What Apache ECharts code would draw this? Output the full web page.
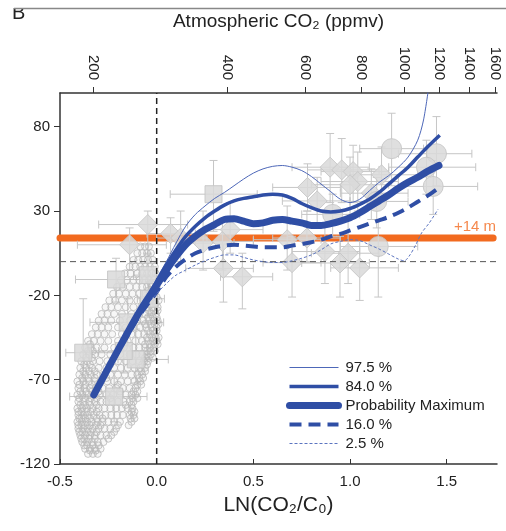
<!DOCTYPE html>
<html>
<head>
<meta charset="utf-8">
<script src="https://cdn.jsdelivr.net/npm/echarts@6/dist/echarts.min.js"></script>
<style>
html, body { margin: 0; padding: 0; background: #fff; }
#chart { width: 506px; height: 531px; }
</style>
</head>
<body>
<div id="chart"></div>
<script>
// reference CO2 (ppmv) for the top axis
const C0 = 278;
const ppmTicks = [200, 400, 600, 800, 1000, 1200, 1400, 1600];
const lnTicks = [-0.5, 0.0, 0.5, 1.0, 1.5];
const seaTicks = [-120, -70, -20, 30, 80];
const plus14 = 14;

// percentile curves  [LN(CO2/C0), sea level m]
const curve975 = [[-0.325,-79],[-0.1,-31],[0,-10],[0.05,0],[0.1,11],[0.15,21],[0.2,28],[0.25,33],[0.3,37.5],
  [0.35,41],[0.4,45],[0.45,49],[0.5,52.5],[0.55,55],[0.6,56.5],[0.65,57],[0.7,56],[0.75,54],[0.8,50.5],
  [0.85,46],[0.9,41.5],[0.95,37],[1.0,35],[1.05,37],[1.1,42],[1.15,47],[1.2,51],[1.25,56],[1.3,62],
  [1.35,72],[1.38,84],[1.405,102]];
const curve840 = [[-0.325,-79],[-0.1,-32],[0,-12],[0.05,-2],[0.1,7],[0.15,15],[0.2,21],[0.25,26],[0.3,30],
  [0.35,33.5],[0.4,36],[0.45,37.5],[0.5,38.5],[0.55,39.5],[0.6,40],[0.65,39.5],[0.7,37.5],[0.75,34.5],
  [0.8,32],[0.85,30],[0.9,29.5],[0.95,30],[1.0,31.5],[1.05,34],[1.1,37],[1.15,41],[1.2,46],[1.25,51],
  [1.3,56],[1.35,62],[1.4,68],[1.464,75]];
const curveMax = [[-0.325,-79],[-0.25,-63],[-0.15,-42],[-0.08,-28],[0,-14],[0.05,-5],[0.1,3],[0.15,10],
  [0.2,15],[0.25,19],[0.3,22],[0.35,25],[0.4,25.5],[0.45,24],[0.5,22.5],[0.55,23],[0.6,24.5],[0.65,25],
  [0.7,24],[0.75,23],[0.8,21.5],[0.85,21.5],[0.9,22.5],[0.95,24],[1.0,26],[1.05,29],[1.1,32.5],[1.15,36],
  [1.2,39.5],[1.25,43.5],[1.3,47],[1.35,50],[1.4,53.5],[1.46,57]];
const curve160 = [[-0.325,-79],[-0.1,-34],[0,-18],[0.05,-9],[0.1,-3],[0.15,1.5],[0.2,5],[0.25,7],[0.3,8.5],
  [0.35,9.5],[0.4,10],[0.45,9.5],[0.5,9],[0.55,8.5],[0.6,8.5],[0.65,8.5],[0.7,9.5],[0.75,10.5],[0.8,11.5],
  [0.85,13],[0.9,15],[0.95,16.5],[1.0,18.5],[1.05,20.5],[1.1,22.5],[1.15,24.5],[1.2,26.5],[1.25,29],
  [1.3,32],[1.35,35.5],[1.4,39],[1.45,43]];
const curve025 = [[-0.325,-79],[-0.1,-33],[0,-19],[0.05,-13],[0.1,-8],[0.15,-5],[0.2,-2],[0.25,0.5],[0.3,2.5],
  [0.35,4],[0.4,4],[0.45,2.5],[0.5,1],[0.55,0],[0.6,-0.5],[0.65,-0.5],[0.7,0.5],[0.75,2],[0.8,4],[0.85,7],
  [0.9,10.5],[0.95,12],[1.0,13],[1.05,12.5],[1.1,10],[1.15,7.5],[1.2,4.5],[1.25,1.5],[1.28,0.5],[1.31,4],
  [1.34,10],[1.37,17],[1.41,23],[1.455,31]];

// proxy records: [x, y, xLow, xHigh, yLow, yHigh]
const squares = [
  [0.294,40,0.07,0.52,18,60],[-0.21,-10.6,-0.42,0.0,-24,2],[-0.38,-54,-0.47,-0.2,-80,-22],
  [-0.22,-80,-0.45,-0.05,-95,-65],[-0.108,-58,-0.2,0.06,-72,-40],[-0.15,-36,-0.345,0.036,-50,-22],
  [-0.17,-53,-0.3,-0.05,-66,-40],[-0.045,-8,-0.12,0.03,-18,4],[-0.04,-22,-0.1,0.04,-32,-12]
];
const diamonds = [
  [-0.046,22,-0.3,0.16,5,30],[-0.14,10,-0.41,0.05,-5,20],[0.072,16.6,-0.05,0.2,5,26],[0.124,14,0.0,0.26,0,30],
  [0.24,11,0.1,0.4,-5,30],[0.34,12,0.2,0.5,-5,25],[0.38,19,0.25,0.55,5,35],[0.345,-4,0.15,0.5,-24,10],
  [0.443,-9,0.33,0.6,-28,5],[0.675,13,0.5,0.85,-5,33],[0.70,-0.6,0.55,0.85,-21,15],[0.777,14,0.6,0.95,0,30],
  [0.87,6,0.7,1.05,-13,22],[0.897,56,0.7,1.1,35,76],[0.957,54.4,0.78,1.15,35,73],[1.016,53.4,0.85,1.2,35,69],
  [1.04,47.5,0.85,1.25,30,65],[1.0,45.6,0.8,1.2,28,62],[1.163,51.5,1.0,1.35,35,68],[1.11,40.6,0.95,1.3,25,55],
  [0.99,5,0.8,1.15,-13,25],[0.948,-0.8,0.75,1.1,-21,15],[1.05,-3.7,0.9,1.25,-23,12],
  [0.78,44,0.6,0.95,30,58],[0.83,36,0.65,1.0,22,50]
];
const circles = [
  [1.215,67,1.05,1.38,45,88],[1.447,64,1.25,1.63,45,86],[1.395,56,1.2,1.65,40,72],[1.43,44.6,1.25,1.66,28,60],
  [1.146,9,0.95,1.35,-21,25],[1.138,35.7,1.0,1.3,20,50],[0.91,28,0.75,1.05,15,40]
];

// dense record of small open circles: [sea level, [LN values]]
const cloudRows = [
  [-114,[-0.355,-0.33,-0.305]],
  [-112,[-0.345,-0.315]],
  [-111,[-0.37,-0.345,-0.32,-0.29]],
  [-109,[-0.375,-0.36,-0.33,-0.3]],
  [-107,[-0.385,-0.36,-0.335,-0.305,-0.275]],
  [-105,[-0.39,-0.375,-0.35,-0.32,-0.25]],
  [-103,[-0.395,-0.37,-0.345,-0.32,-0.29,-0.26,-0.235]],
  [-101,[-0.4,-0.385,-0.36,-0.34,-0.31,-0.22]],
  [-99,[-0.405,-0.38,-0.355,-0.33,-0.3,-0.27,-0.24,-0.21]],
  [-97,[-0.405,-0.39,-0.37,-0.345,-0.315,-0.29,-0.2,-0.145]],
  [-95,[-0.41,-0.385,-0.36,-0.335,-0.305,-0.28,-0.25,-0.22,-0.19,-0.13]],
  [-93,[-0.4,-0.39,-0.37,-0.345,-0.31,-0.28,-0.135,-0.115]],
  [-91,[-0.405,-0.38,-0.355,-0.325,-0.295,-0.265,-0.235,-0.205,-0.175,-0.14,-0.12]],
  [-89,[-0.405,-0.39,-0.365,-0.34,-0.31,-0.13,-0.115]],
  [-87,[-0.41,-0.385,-0.36,-0.33,-0.3,-0.27,-0.24,-0.21,-0.18,-0.15,-0.125]],
  [-85,[-0.395,-0.37,-0.345,-0.31,-0.16,-0.13]],
  [-83,[-0.405,-0.38,-0.35,-0.32,-0.29,-0.26,-0.23,-0.2,-0.17,-0.14,-0.12]],
  [-81,[-0.4,-0.37,-0.34,-0.31,-0.24,-0.125,-0.1]],
  [-79,[-0.41,-0.385,-0.355,-0.325,-0.295,-0.26,-0.225,-0.19,-0.16,-0.13,-0.11]],
  [-77,[-0.395,-0.365,-0.335,-0.3,-0.19,-0.12,-0.1]],
  [-75,[-0.405,-0.375,-0.345,-0.315,-0.28,-0.245,-0.21,-0.175,-0.14,-0.11]],
  [-73,[-0.4,-0.37,-0.335,-0.3,-0.2,-0.1,-0.08]],
  [-71,[-0.41,-0.38,-0.35,-0.32,-0.29,-0.255,-0.22,-0.185,-0.15,-0.115,-0.085]],
  [-69,[-0.385,-0.355,-0.32,-0.26,-0.09,-0.07]],
  [-67,[-0.4,-0.37,-0.34,-0.31,-0.275,-0.24,-0.2,-0.165,-0.13,-0.1,-0.075]],
  [-65,[-0.38,-0.35,-0.32,-0.08,-0.06]],
  [-63,[-0.395,-0.365,-0.335,-0.3,-0.26,-0.22,-0.185,-0.15,-0.115,-0.085,-0.06]],
  [-61,[-0.375,-0.345,-0.24,-0.075,-0.05]],
  [-59,[-0.39,-0.36,-0.33,-0.295,-0.255,-0.2,-0.16,-0.125,-0.09,-0.065,-0.045]],
  [-57,[-0.365,-0.335,-0.06,-0.04,-0.02]],
  [-55,[-0.38,-0.35,-0.32,-0.285,-0.24,-0.19,-0.14,-0.105,-0.075,-0.05,-0.03]],
  [-53,[-0.355,-0.33,-0.05,-0.03,-0.01]],
  [-51,[-0.37,-0.34,-0.31,-0.27,-0.22,-0.17,-0.12,-0.09,-0.06,-0.035,-0.015]],
  [-49,[-0.345,-0.06,-0.035,-0.01,0.005]],
  [-47,[-0.355,-0.325,-0.29,-0.25,-0.2,-0.15,-0.11,-0.075,-0.045,-0.02,0.0]],
  [-45,[-0.05,-0.025,-0.005,0.01]],
  [-43,[-0.335,-0.305,-0.27,-0.23,-0.18,-0.13,-0.095,-0.065,-0.035,-0.01]],
  [-41,[-0.045,-0.02,0.0]],
  [-39,[-0.315,-0.285,-0.25,-0.2,-0.16,-0.12,-0.085,-0.055,-0.025,0.0]],
  [-37,[-0.06,-0.03,-0.01,0.01]],
  [-35,[-0.3,-0.27,-0.235,-0.19,-0.14,-0.1,-0.07,-0.04,-0.015,0.005]],
  [-33,[-0.045,-0.02,0.0]],
  [-31,[-0.285,-0.255,-0.22,-0.18,-0.13,-0.09,-0.06,-0.03,-0.005]],
  [-29,[-0.04,-0.015,0.005]],
  [-27,[-0.265,-0.235,-0.2,-0.16,-0.12,-0.08,-0.05,-0.02,0.005]],
  [-25,[-0.05,-0.03,-0.005]],
  [-23,[-0.245,-0.215,-0.18,-0.14,-0.1,-0.07,-0.04,-0.015,0.01]],
  [-21,[-0.045,-0.02,0.0]],
  [-19,[-0.225,-0.195,-0.16,-0.125,-0.09,-0.06,-0.035,-0.01]],
  [-17,[-0.04,-0.015]],
  [-15,[-0.205,-0.175,-0.14,-0.105,-0.075,-0.05,-0.025,0.0]],
  [-13,[-0.03,-0.005]],
  [-11,[-0.185,-0.155,-0.12,-0.09,-0.065,-0.04,-0.015]],
  [-7,[-0.165,-0.135,-0.1,-0.075,-0.05,-0.025,-0.005]],
  [-3,[-0.14,-0.11,-0.085,-0.06,-0.035,-0.01]],
  [1,[-0.12,-0.095,-0.07,-0.045,-0.02]],
  [5,[-0.1,-0.075,-0.05,-0.03]],
  [9,[-0.085,-0.06,-0.04]]
];
const cloud = [];
cloudRows.forEach(row => {
    row[1].forEach(x => cloud.push([x, row[0]]));
});

const font = 'Liberation Sans, Arial, sans-serif';
const blue = '#2f4ea5';
const grey = '#d9d9d9';
const orange = '#f26a1f';

function lnOf(ppm) {
    return Math.log(ppm / C0);
}

// error bars with caps for every proxy record
function renderErrorBar(params, api) {
    const x = api.value(0), y = api.value(1);
    const a = api.coord([api.value(2), y]);
    const b = api.coord([api.value(3), y]);
    const c = api.coord([x, api.value(4)]);
    const d = api.coord([x, api.value(5)]);
    const k = 4;
    const style = { stroke: '#c6c6c6', lineWidth: 1, fill: null };
    const seg = (x1, y1, x2, y2) => ({ type: 'line', shape: { x1, y1, x2, y2 }, style });
    return {
        type: 'group',
        children: [
            seg(a[0], a[1], b[0], b[1]), seg(a[0], a[1] - k, a[0], a[1] + k), seg(b[0], b[1] - k, b[0], b[1] + k),
            seg(c[0], c[1], d[0], d[1]), seg(c[0] - k, c[1], c[0] + k, c[1]), seg(d[0] - k, d[1], d[0] + k, d[1])
        ]
    };
}

const option = {
    animation: false,
    backgroundColor: '#fff',
    textStyle: { fontFamily: font },
    grid: { left: 60, right: 9, top: 93, bottom: 67 },
    legend: {
        orient: 'vertical',
        left: 286,
        top: 360,
        padding: 0,
        itemWidth: 49,
        itemHeight: 10,
        itemGap: 4,
        selectedMode: false,
        itemStyle: { opacity: 0 },
        lineStyle: { width: 'inherit' },
        textStyle: { fontSize: 15, color: '#222', fontFamily: font, padding: [0, 0, 0, 2] },
        data: ['97.5 %', '84.0 %', 'Probability Maximum', '16.0 %', '2.5 %']
    },
    xAxis: [
        {
            type: 'value',
            min: -0.5,
            max: 1.76,
            position: 'bottom',
            name: 'LN(CO\u2082/C\u2080)',
            nameLocation: 'middle',
            nameGap: 31,
            nameTextStyle: { fontSize: 21, color: '#222', fontFamily: font },
            axisLine: { onZero: false, lineStyle: { color: '#333', width: 1.5 } },
            axisTick: { inside: true, length: 5, customValues: lnTicks, lineStyle: { color: '#333' } },
            axisLabel: {
                customValues: lnTicks, margin: 10, fontSize: 15, color: '#222',
                formatter: v => v.toFixed(1)
            },
            splitLine: { show: false }
        },
        {
            type: 'value',
            min: -0.5,
            max: 1.76,
            position: 'top',
            name: 'Atmospheric CO\u2082 (ppmv)',
            nameLocation: 'middle',
            nameGap: 62,
            nameTextStyle: { fontSize: 19, color: '#222', fontFamily: font },
            axisLine: { onZero: false, lineStyle: { color: '#333', width: 1.5 } },
            axisTick: { length: 6, customValues: ppmTicks.map(lnOf), lineStyle: { color: '#333' } },
            axisLabel: {
                customValues: ppmTicks.map(lnOf), rotate: 90, margin: 13, fontSize: 15, color: '#222',
                formatter: v => String(Math.round(C0 * Math.exp(v)))
            },
            splitLine: { show: false }
        }
    ],
    yAxis: {
        type: 'value',
        min: -120,
        max: 100,
        axisLine: { show: true, onZero: false, lineStyle: { color: '#333', width: 1.5 } },
        axisTick: { show: true, length: 6, customValues: seaTicks, lineStyle: { color: '#333' } },
        axisLabel: { customValues: seaTicks, margin: 10, fontSize: 15, color: '#222' },
        splitLine: { show: false }
    },
    series: [
        {
            type: 'line',
            z: 1,
            symbol: 'none',
            lineStyle: { color: orange, width: 7, cap: 'round' },
            data: [[-0.5, plus14], [1.74, plus14]]
        },
        {
            type: 'scatter',
            z: 7,
            symbolSize: 1,
            itemStyle: { color: 'rgba(0,0,0,0)' },
            label: {
                show: true, position: 'left', distance: 0, offset: [0, -11],
                formatter: '+14 m', color: orange, fontSize: 15, fontFamily: font
            },
            data: [[1.758, plus14]]
        },
        {
            type: 'custom',
            z: 2,
            clip: true,
            renderItem: renderErrorBar,
            encode: { x: [0, 2, 3], y: [1, 4, 5] },
            data: squares.concat(diamonds, circles)
        },
        {
            type: 'scatter',
            z: 2,
            symbol: 'circle',
            symbolSize: 7,
            itemStyle: { color: 'rgba(190,190,190,0.15)', borderColor: '#b9b9b9', borderWidth: 1 },
            data: cloud
        },
        {
            type: 'scatter',
            z: 3,
            symbol: 'rect',
            symbolSize: 17,
            encode: { x: 0, y: 1 },
            itemStyle: { color: grey, borderColor: '#c4c4c4', borderWidth: 1, opacity: 0.85 },
            data: squares
        },
        {
            type: 'scatter',
            z: 3,
            symbol: 'diamond',
            symbolSize: 20,
            encode: { x: 0, y: 1 },
            itemStyle: { color: grey, borderColor: '#c4c4c4', borderWidth: 1, opacity: 0.85 },
            data: diamonds
        },
        {
            type: 'scatter',
            z: 3,
            symbol: 'circle',
            symbolSize: 20,
            encode: { x: 0, y: 1 },
            itemStyle: { color: grey, borderColor: '#c4c4c4', borderWidth: 1, opacity: 0.85 },
            data: circles
        },
        {
            type: 'line',
            z: 4,
            symbol: 'none',
            lineStyle: { color: '#222', width: 1.5, type: [6, 4] },
            data: [[0, -120], [0, 100]]
        },
        {
            type: 'line',
            z: 4,
            symbol: 'none',
            lineStyle: { color: '#555', width: 1, type: [6, 4] },
            data: [[-0.5, 0], [1.76, 0]]
        },
        {
            name: '97.5 %',
            type: 'line',
            z: 5,
            symbol: 'none',
            smooth: 0.3,
            color: '#4d67b8',
            lineStyle: { color: '#4d67b8', width: 1 },
            data: curve975
        },
        {
            name: '84.0 %',
            type: 'line',
            z: 5,
            symbol: 'none',
            smooth: 0.3,
            color: blue,
            lineStyle: { color: blue, width: 3.5 },
            data: curve840
        },
        {
            name: 'Probability Maximum',
            type: 'line',
            z: 6,
            symbol: 'none',
            smooth: 0.3,
            color: blue,
            lineStyle: { color: blue, width: 7, cap: 'round' },
            data: curveMax
        },
        {
            name: '16.0 %',
            type: 'line',
            z: 5,
            symbol: 'none',
            smooth: 0.3,
            color: blue,
            lineStyle: { color: blue, width: 4, type: [12, 7] },
            data: curve160
        },
        {
            name: '2.5 %',
            type: 'line',
            z: 5,
            symbol: 'none',
            smooth: 0.3,
            color: '#5b74c0',
            lineStyle: { color: '#5b74c0', width: 1, type: [3, 2] },
            data: curve025
        }
    ],
    graphic: [
        { type: 'text', left: 12, top: 3, z: 10, style: { text: 'B', fontSize: 20, fill: '#222', fontFamily: font } },
        { type: 'rect', shape: { x: 0, y: 0, width: 506, height: 8 }, z: 11, style: { fill: '#fff' } },
        { type: 'line', shape: { x1: 14, y1: 8.5, x2: 506, y2: 8.5 }, z: 12, style: { stroke: '#888', lineWidth: 1.5 } }
    ]
};

const chart = echarts.init(document.getElementById('chart'));
chart.setOption(option);
</script>
</body>
</html>
